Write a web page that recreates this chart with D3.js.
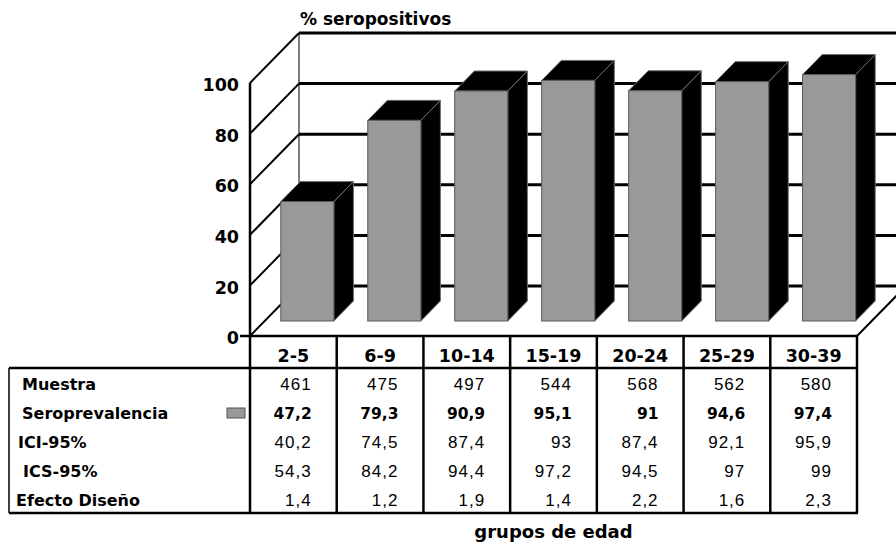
<!DOCTYPE html>
<html>
<head>
<meta charset="utf-8">
<script src="https://cdn.jsdelivr.net/npm/d3@7"></script>
<style>
  html, body { margin: 0; padding: 0; background: #fff; }
  svg { display: block; }
</style>
</head>
<body>
<svg id="chart" width="896" height="546"></svg>
<script>
// Age groups and survey results
const categories = ["2-5", "6-9", "10-14", "15-19", "20-24", "25-29", "30-39"];
const muestra = [461, 475, 497, 544, 568, 562, 580];
const seroprevalencia = [47.2, 79.3, 90.9, 95.1, 91, 94.6, 97.4];
const ici95 = [40.2, 74.5, 87.4, 93, 87.4, 92.1, 95.9];
const ics95 = [54.3, 84.2, 94.4, 97.2, 94.5, 97, 99];
const efectoDiseno = [1.4, 1.2, 1.9, 1.4, 2.2, 1.6, 2.3];
const yTicks = [0, 20, 40, 60, 80, 100];

const rowLabels = ["Muestra", "Seroprevalencia", "ICI-95%", "ICS-95%", "Efecto Diseño"];
const rowValues = [muestra, seroprevalencia, ici95, ics95, efectoDiseno];

const svg = d3.select("#chart");
const font = '"DejaVu Sans", Verdana, sans-serif';
const fontArial = '"Liberation Sans", Arial, Helvetica, sans-serif';

// Plot frame: front plane and wall depth
const left = 250, right = 857;
const depthX = 49, depthY = -50;
const y = d3.scaleLinear().domain([0, 100]).range([336, 83]);
const xCol = d3.scaleBand().domain(categories).range([left, right]).padding(0);
const xBar = d3.scaleBand().domain(categories).range([left, right])
  .paddingInner(0.39).paddingOuter(0.185);

// projected point at depth t (0 = front, 1 = back wall)
const px = (x, t) => x + depthX * t;
const py = (yy, t) => yy + depthY * t;

const g = svg.append("g");

// back wall gridlines
g.selectAll("line.grid").data(yTicks).join("line")
  .attr("x1", px(left, 1)).attr("x2", 896 + 20)
  .attr("y1", d => py(y(d), 1)).attr("y2", d => py(y(d), 1))
  .attr("stroke", "#000").attr("stroke-width", 3);

// back wall left edge
g.append("line")
  .attr("x1", px(left, 1)).attr("x2", px(left, 1))
  .attr("y1", py(y(100), 1)).attr("y2", py(y(0), 1))
  .attr("stroke", "#000").attr("stroke-width", 1);

// side wall diagonals
g.selectAll("line.diag").data(yTicks).join("line")
  .attr("x1", left).attr("y1", d => y(d))
  .attr("x2", px(left, 1)).attr("y2", d => py(y(d), 1))
  .attr("stroke", "#000").attr("stroke-width", 2);

// right floor edge
g.append("line")
  .attr("x1", right).attr("y1", y(0))
  .attr("x2", px(right, 1)).attr("y2", py(y(0), 1))
  .attr("stroke", "#000").attr("stroke-width", 2);

// front vertical axis
g.append("line")
  .attr("x1", left).attr("x2", left)
  .attr("y1", y(100)).attr("y2", y(0))
  .attr("stroke", "#000").attr("stroke-width", 2.5);

// y tick labels
g.selectAll("text.ytick").data(yTicks).join("text")
  .attr("x", 239).attr("y", d => y(d) + 2)
  .attr("dy", "0.35em")
  .attr("text-anchor", "end")
  .attr("font-family", font).attr("font-weight", "bold")
  .attr("font-size", 17.5)
  .text(d => d);

// 3D bars
const t0 = 0.3, t1 = 0.7;
const bars = g.selectAll("g.bar").data(categories.map((c, i) => ({ c, v: seroprevalencia[i] })))
  .join("g");
bars.each(function (d) {
  const s = d3.select(this);
  const xl = xBar(d.c), xr = xBar(d.c) + xBar.bandwidth();
  const yb = y(0), yt = y(d.v);
  const pts = (arr) => arr.map(p => p.join(",")).join(" ");
  // right side
  s.append("polygon")
    .attr("points", pts([[px(xr, t0), py(yb, t0)], [px(xr, t1), py(yb, t1)],
                         [px(xr, t1), py(yt, t1)], [px(xr, t0), py(yt, t0)]]))
    .attr("fill", "#000").attr("stroke", "#6e6e6e").attr("stroke-width", 1);
  // top
  s.append("polygon")
    .attr("points", pts([[px(xl, t0), py(yt, t0)], [px(xr, t0), py(yt, t0)],
                         [px(xr, t1), py(yt, t1)], [px(xl, t1), py(yt, t1)]]))
    .attr("fill", "#000").attr("stroke", "#6e6e6e").attr("stroke-width", 1);
  // front
  s.append("rect")
    .attr("x", px(xl, t0)).attr("y", py(yt, t0))
    .attr("width", xr - xl).attr("height", yb - yt)
    .attr("fill", "#999999").attr("stroke", "#5a5a5a").attr("stroke-width", 1);
});

// data table
const headTop = y(0), headBottom = 368, tableBottom = 513, tableLeft = 9;

// floor front edge / table top
g.append("line")
  .attr("x1", 240).attr("x2", right + 1)
  .attr("y1", headTop).attr("y2", headTop)
  .attr("stroke", "#000").attr("stroke-width", 2.5);
g.append("line")
  .attr("x1", tableLeft).attr("x2", right + 1)
  .attr("y1", headBottom).attr("y2", headBottom)
  .attr("stroke", "#000").attr("stroke-width", 2.5);
g.append("line")
  .attr("x1", tableLeft).attr("x2", right + 1)
  .attr("y1", tableBottom).attr("y2", tableBottom)
  .attr("stroke", "#000").attr("stroke-width", 2.5);
g.append("line")
  .attr("x1", tableLeft).attr("x2", tableLeft)
  .attr("y1", headBottom).attr("y2", tableBottom)
  .attr("stroke", "#000").attr("stroke-width", 1.5);

// column separators
const colEdges = categories.map(c => xCol(c)).concat([right]);
g.selectAll("line.col").data(colEdges).join("line")
  .attr("x1", d => d).attr("x2", d => d)
  .attr("y1", headTop).attr("y2", tableBottom)
  .attr("stroke", "#000").attr("stroke-width", 2.5);

// column headers
g.selectAll("text.head").data(categories).join("text")
  .attr("x", d => xCol(d) + xCol.bandwidth() / 2)
  .attr("y", 362)
  .attr("text-anchor", "middle")
  .attr("font-family", font).attr("font-weight", "bold")
  .attr("font-size", 17.5)
  .text(d => d);

// row labels and values
const rowY = i => 390 + 29 * i;
const labelX = [22, 22, 18, 23, 16];
const fmt = v => String(v).replace(".", ",");

rowLabels.forEach((lab, i) => {
  g.append("text")
    .attr("x", labelX[i]).attr("y", rowY(i))
    .attr("font-family", font).attr("font-weight", "bold")
    .attr("font-size", 16)
    .text(lab);
  g.selectAll(null).data(rowValues[i].map((v, j) => ({ v, c: categories[j] }))).join("text")
    .attr("x", d => xCol(d.c) + xCol.bandwidth() - 25)
    .attr("y", rowY(i))
    .attr("text-anchor", "end")
    .attr("font-family", lab === "Seroprevalencia" ? font : fontArial)
    .attr("font-weight", lab === "Seroprevalencia" ? "bold" : "normal")
    .attr("font-size", lab === "Seroprevalencia" ? 15.5 : 17)
    .attr("letter-spacing", lab === "Seroprevalencia" ? 0 : 1)
    .text(d => fmt(d.v));
});

// legend swatch for the bar series
g.append("rect")
  .attr("x", 227).attr("y", rowY(1) - 11)
  .attr("width", 18).attr("height", 10)
  .attr("fill", "#999999").attr("stroke", "#555").attr("stroke-width", 1);

// axis titles
svg.append("text")
  .attr("x", 300).attr("y", 25)
  .attr("font-family", font).attr("font-weight", "bold")
  .attr("font-size", 17)
  .text("% seropositivos");

svg.append("text")
  .attr("x", (left + right) / 2).attr("y", 538)
  .attr("text-anchor", "middle")
  .attr("font-family", font).attr("font-weight", "bold")
  .attr("font-size", 18)
  .text("grupos de edad");
</script>
</body>
</html>
